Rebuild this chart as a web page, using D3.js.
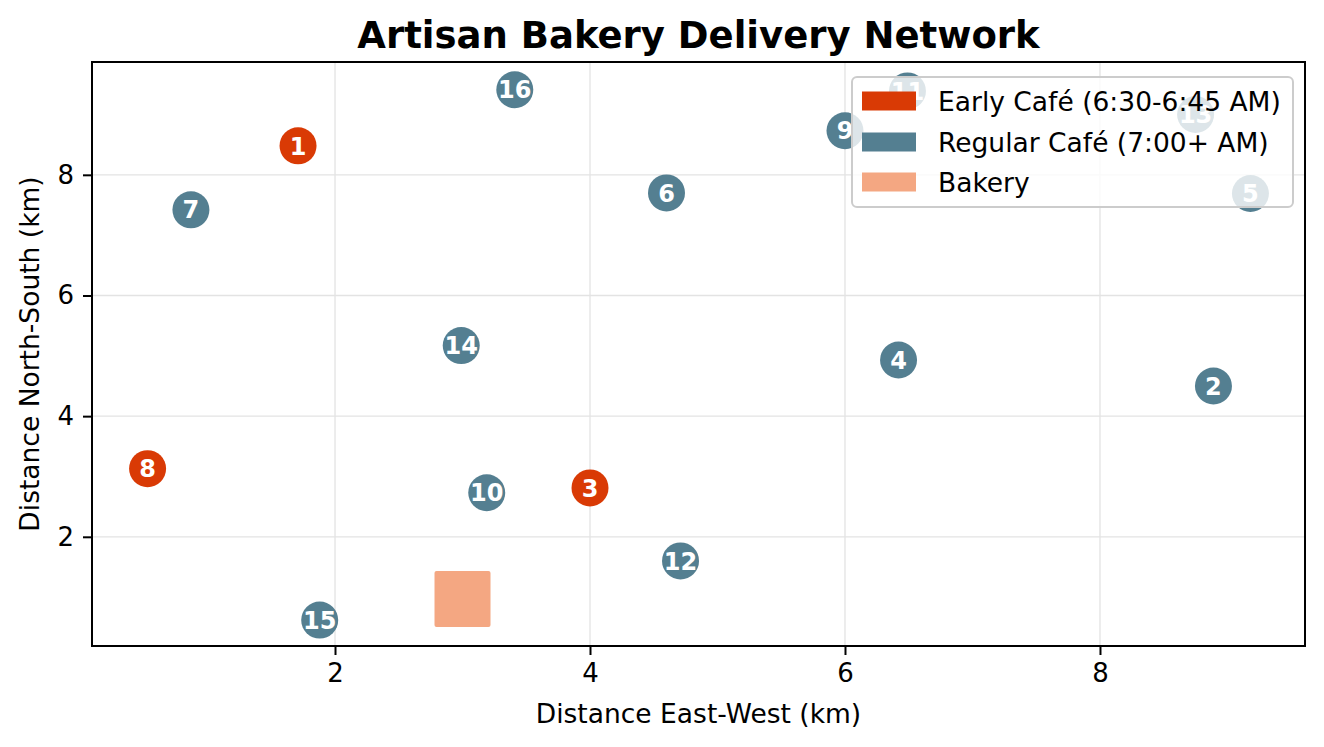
<!DOCTYPE html>
<html><head><meta charset="utf-8">
<script src="https://cdn.jsdelivr.net/npm/d3@7"></script>
<style>body{margin:0;background:#fff;} svg{display:block;font-family:"DejaVu Sans",sans-serif;}</style>
</head><body>
<svg id="c" width="1324" height="747"></svg>
<script>
const cafeIds = [1,2,3,4,5,6,7,8,9,10,11,12,13,14,15,16];
const cafeX = [1.71,8.89,4.0,6.42,9.18,4.6,0.87,0.53,6.0,3.19,6.49,4.71,8.75,2.99,1.88,3.41];
const cafeY = [8.48,4.50,2.81,4.93,7.69,7.70,7.42,3.13,8.73,2.73,9.39,1.60,9.0,5.17,0.62,9.41];
const cafeType = ["early","regular","early","regular","regular","regular","regular","early","regular","regular","regular","regular","regular","regular","regular","regular"];
const bakeryX = [3.0];
const bakeryY = [0.97];
const xTicks = [2,4,6,8];
const yTicks = [2,4,6,8];
const legendLabels = ["Early Café (6:30-6:45 AM)","Regular Café (7:00+ AM)","Bakery"];
const colors = {early:"#d93a05", regular:"#547f91", bakery:"#f4a782"};

const svg = d3.select("#c");
const L=92,R=1305,T=62,B=646;
const x = d3.scaleLinear().domain([0.094,9.608]).range([L,R]);
const y = d3.scaleLinear().domain([0.19,9.87]).range([B,T]);

svg.append("text").attr("x",(L+R)/2).attr("y",48).attr("text-anchor","middle")
  .attr("font-size",37).attr("font-weight","bold").text("Artisan Bakery Delivery Network");

const g = svg.append("g");
// grid
g.selectAll(".gx").data(xTicks).enter().append("line")
  .attr("x1",d=>x(d)).attr("x2",d=>x(d)).attr("y1",T).attr("y2",B)
  .attr("stroke","#e3e3e3").attr("stroke-width",1.3);
g.selectAll(".gy").data(yTicks).enter().append("line")
  .attr("y1",d=>y(d)).attr("y2",d=>y(d)).attr("x1",L).attr("x2",R)
  .attr("stroke","#e3e3e3").attr("stroke-width",1.3);

// bakery
const bs = 56;
g.selectAll(".bak").data(bakeryX).enter().append("rect")
  .attr("x",(d,i)=>x(d)-bs/2).attr("y",(d,i)=>y(bakeryY[i])-bs/2)
  .attr("width",bs).attr("height",bs).attr("rx",2).attr("fill",colors.bakery);

// cafes
const cafes = cafeIds.map((id,i)=>({id,x:cafeX[i],y:cafeY[i],t:cafeType[i]}));
const cg = g.selectAll(".cafe").data(cafes).enter().append("g")
  .attr("transform",d=>`translate(${x(d.x)},${y(d.y)})`);
cg.append("circle").attr("r",18.5).attr("fill",d=>colors[d.t]);
cg.append("text").attr("text-anchor","middle").attr("dy","0.36em")
  .attr("fill","#fff").attr("font-weight","bold").attr("font-size",24).text(d=>d.id);

// axes
const xa = svg.append("g").attr("transform",`translate(0,${B})`)
  .call(d3.axisBottom(x).tickValues(xTicks).tickSize(9).tickPadding(9).tickFormat(d3.format("d")));
const ya = svg.append("g").attr("transform",`translate(${L},0)`)
  .call(d3.axisLeft(y).tickValues(yTicks).tickSize(9).tickPadding(9).tickFormat(d3.format("d")));
[xa,ya].forEach(a=>{a.select(".domain").remove();
  a.selectAll("text").attr("font-size",26).attr("font-family","DejaVu Sans").attr("fill","#000");
  a.selectAll("line").attr("stroke","#000").attr("stroke-width",2);});
svg.append("rect").attr("x",L).attr("y",T).attr("width",R-L).attr("height",B-T)
  .attr("fill","none").attr("stroke","#000").attr("stroke-width",2);

svg.append("text").attr("x",(L+R)/2).attr("y",723).attr("text-anchor","middle")
  .attr("font-size",26.5).text("Distance East-West (km)");
svg.append("text").attr("transform",`translate(39,${(T+B)/2}) rotate(-90)`).attr("text-anchor","middle")
  .attr("font-size",26.5).text("Distance North-South (km)");

// legend
const lg = svg.append("g");
lg.append("rect").attr("x",852).attr("y",77).attr("width",441).attr("height",130).attr("rx",5)
  .attr("fill","#fff").attr("fill-opacity",0.8).attr("stroke","#cccccc").attr("stroke-width",2);
const lcols=[colors.early,colors.regular,colors.bakery];
const rows=[101,142,182];
legendLabels.forEach((t,i)=>{
  lg.append("rect").attr("x",862).attr("y",rows[i]-9.5).attr("width",54).attr("height",19).attr("fill",lcols[i]);
  lg.append("text").attr("x",938).attr("y",rows[i]).attr("dy","0.36em").attr("font-size",26.5).text(t);
});
</script>
</body></html>
